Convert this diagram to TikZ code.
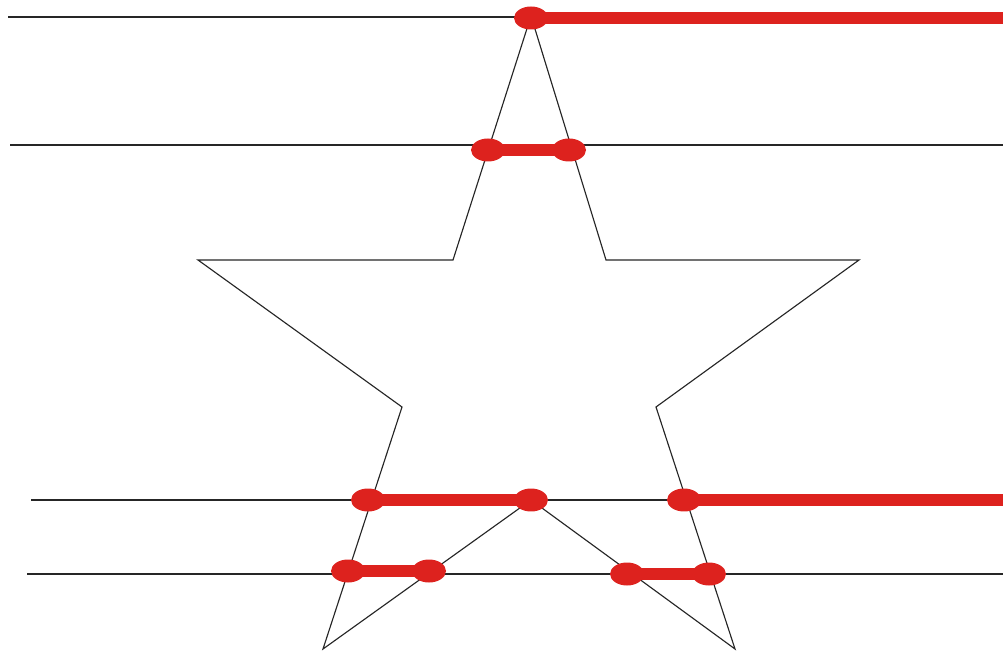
\documentclass[tikz,border=0pt]{standalone}
\usepackage{xcolor}
\usetikzlibrary{shapes.geometric, positioning}
\definecolor{hitred}{RGB}{221,34,30}

\begin{document}
\begin{tikzpicture}[
    x=0.02cm, y=-0.02cm,
    ray/.style={draw=black!85, line width=0.7pt},
    edge/.style={draw=black!85, line width=0.65pt},
    hit/.style={ellipse, fill=hitred, minimum width=0.68cm, minimum height=0.46cm, inner sep=0pt},
    span/.style={draw=hitred, line width=7pt}
]
    \useasboundingbox (0,0) rectangle (1003,651);

    % star corners
    \coordinate (tip)  at (531,16);
    \coordinate (sl)   at (453,260);
    \coordinate (sr)   at (606,260);
    \coordinate (ol)   at (198,260);
    \coordinate (or)   at (859,260);
    \coordinate (il)   at (402,407);
    \coordinate (ir)   at (656,407);
    \coordinate (bl)   at (323,649);
    \coordinate (br)   at (735,649);
    \coordinate (ib)   at (531,500);

    % scan lines
    \coordinate (a0) at (8,17);    \coordinate (a1) at (1003,17);
    \coordinate (b0) at (10,145);  \coordinate (b1) at (1003,145);
    \coordinate (c0) at (31,500);  \coordinate (c1) at (1003,500);
    \coordinate (d0) at (27,574);  \coordinate (d1) at (1003,574);

    \draw[ray] (a0) -- (a1);
    \draw[ray] (b0) -- (b1);
    \draw[ray] (c0) -- (c1);
    \draw[ray] (d0) -- (d1);

    \draw[edge] (tip) -- (sr) -- (or) -- (ir) -- (br) -- (ib) -- (bl) -- (il) -- (ol) -- (sl) -- cycle;

    % crossings
    \node[hit] (h1) at (531,18) {};
    \node[hit] (h2) at (488,150) {};
    \node[hit] (h3) at (569,150) {};
    \node[hit] (h4) at (368,500) {};
    \node[hit] (h5) at (531,500) {};
    \node[hit] (h6) at (684,500) {};
    \node[hit] (h7) at (348,571) {};
    \node[hit] (h8) at (429,571) {};
    \node[hit] (h9) at (627,574) {};
    \node[hit] (h10) at (709,574) {};

    \draw[span] (h1.center) -- (a1 |- h1.center);
    \draw[span] (h2.center) -- (h3.center);
    \draw[span] (h4.center) -- (h5.center);
    \draw[span] (h6.center) -- (c1 |- h6.center);
    \draw[span] (h7.center) -- (h8.center);
    \draw[span] (h9.center) -- (h10.center);
\end{tikzpicture}
\end{document}
